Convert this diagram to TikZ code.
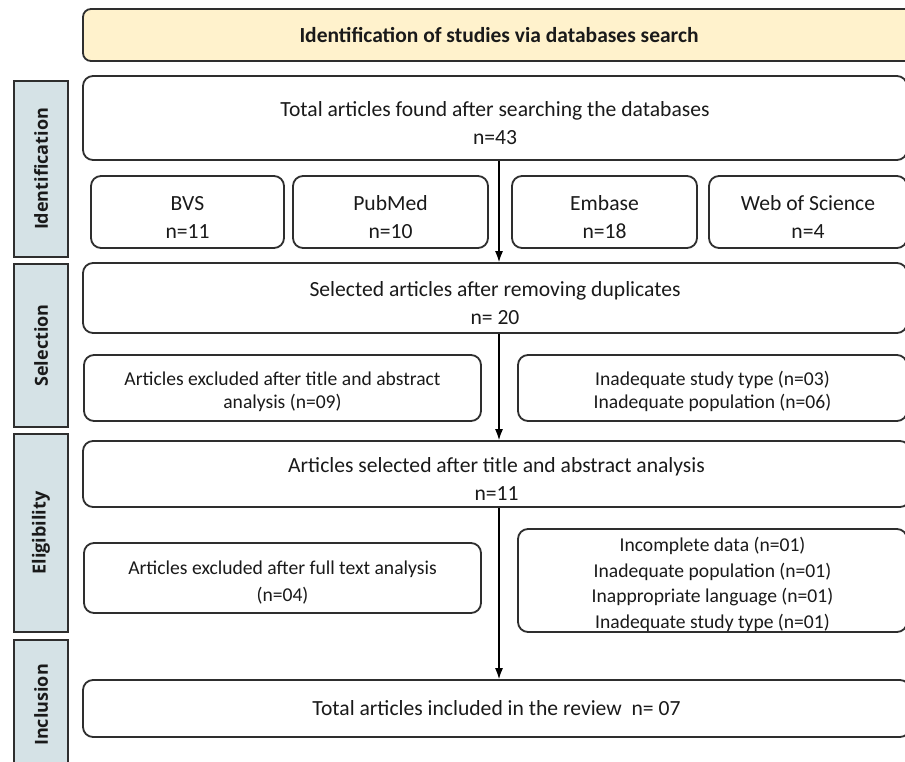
\documentclass[tikz,border=0pt]{standalone}
\usepackage{fontspec}
\setmainfont{Carlito}
\newfontfamily\barfont{Open Sans}
\usetikzlibrary{arrows.meta}
\definecolor{hdrfill}{HTML}{FFF2CC}
\definecolor{barfill}{HTML}{D5E2E6}
\definecolor{edge}{HTML}{2E2E2E}
\definecolor{txt}{HTML}{1A1A1A}
\newcommand\bigstrutx{\rule{0pt}{24.5pt}}
\newcommand\smallstrutx{\rule{0pt}{22pt}}
\tikzset{
  box/.style={draw=edge, line width=1.8pt, rounded corners=10pt, fill=white, align=center, text=txt, inner sep=0pt, font=\fontsize{21.6}{28}\selectfont},
  sbox/.style={box, font=\fontsize{19.6}{23}\selectfont},
  hdr/.style={box, fill=hdrfill, font=\bfseries\fontsize{21.5}{24}\selectfont, rounded corners=8pt},
  bar/.style={draw=edge, line width=1.8pt, fill=barfill, inner sep=0pt, text=txt},
  barlabel/.style={rotate=90, font=\barfont\bfseries\fontsize{18}{20}\selectfont, text=txt},
  arr/.style={draw=black, line width=1.2pt, -{Latex[length=11pt,width=8pt]}}
}
\begin{document}
\begin{tikzpicture}[x=1pt,y=-1pt]
\useasboundingbox (0,0) rectangle (905,762);
% header
\node[hdr, minimum width=832pt, minimum height=52pt] (hdr) at (499,35) {Identification of studies via databases search};
% side bars
\node[bar, minimum width=54pt, minimum height=176pt] (bid) at (41,169) {};
\node[barlabel] at (bid) {Identification};
\node[bar, minimum width=54pt, minimum height=163pt] (bsel) at (41,345.5) {};
\node[barlabel] at (bsel) {Selection};
\node[bar, minimum width=54pt, minimum height=198pt] (bel) at (41,533) {};
\node[barlabel] at (bel) {Eligibility};
\node[bar, minimum width=54pt, minimum height=130pt] (binc) at (41,705) {};
\node[barlabel] at (binc) {Inclusion};
% identification
\node[box, minimum width=824pt, minimum height=84pt] (total) at (495,118) {\bigstrutx Total articles found after searching the databases\\n=43};
\node[box, minimum width=193pt, minimum height=72pt] (bvs) at (187.5,212) {\bigstrutx BVS\\n=11};
\node[box, minimum width=195pt, minimum height=72pt] (pub) at (390.5,212) {\bigstrutx PubMed\\n=10};
\node[box, minimum width=185pt, minimum height=72pt] (emb) at (604.5,212) {\bigstrutx Embase\\n=18};
\node[box, minimum width=198pt, minimum height=72pt] (wos) at (808,212) {\bigstrutx Web of Science\\n=4};
% selection
\node[box, minimum width=824pt, minimum height=70pt] (sel) at (495,298) {\bigstrutx Selected articles after removing duplicates\\n= 20};
\node[sbox, minimum width=397pt, minimum height=66pt] (ex1) at (282.5,388) {\smallstrutx Articles excluded after title and abstract\\analysis (n=09)};
\node[sbox, minimum width=389pt, minimum height=66pt] (re1) at (712.5,388) {\smallstrutx Inadequate study type (n=03)\\Inadequate population (n=06)};
% eligibility
\node[box, minimum width=827pt, minimum height=66pt] (sel2) at (496.5,474) {\bigstrutx Articles selected after title and abstract analysis\\n=11};
\node[sbox, font=\fontsize{19.6}{27}\selectfont, minimum width=397pt, minimum height=70pt] (ex2) at (282.5,578) {\smallstrutx Articles excluded after full text analysis\\(n=04)};
\node[sbox, font=\fontsize{19.6}{25.5}\selectfont, minimum width=389pt, minimum height=103pt] (re2) at (712.5,580.5) {\smallstrutx Incomplete data (n=01)\\Inadequate population (n=01)\\Inappropriate language (n=01)\\Inadequate study type (n=01)};
% inclusion
\node[box, minimum width=827pt, minimum height=57pt] (fin) at (496.5,708.5) {Total articles included in the review\ \ n= 07};
% arrows
\coordinate (ax) at (499,0);
\draw[arr] (total.south -| ax) -- (sel.north -| ax);
\draw[arr] (sel.south -| ax) -- (sel2.north -| ax);
\draw[arr] (sel2.south -| ax) -- (fin.north -| ax);
\end{tikzpicture}
\end{document}
